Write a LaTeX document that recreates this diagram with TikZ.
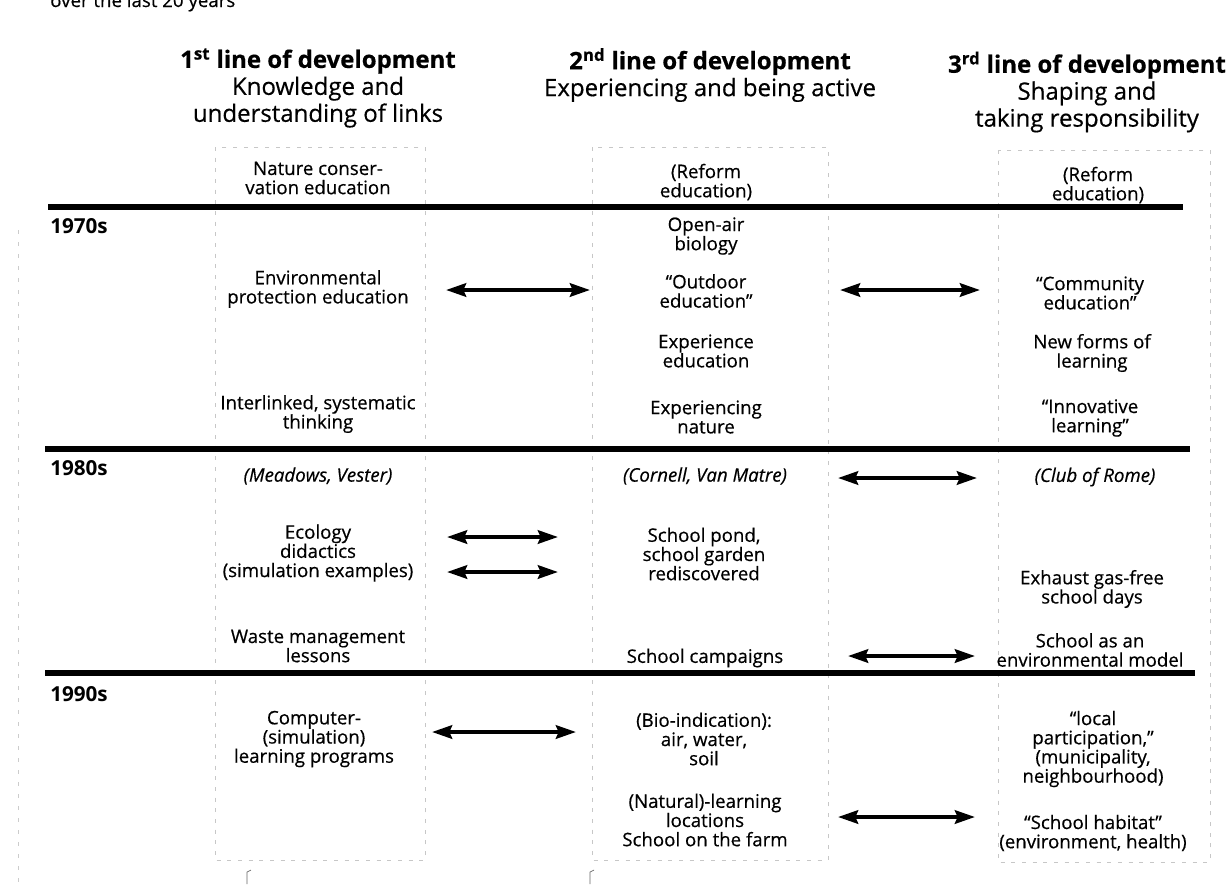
\documentclass[tikz,border=0pt]{standalone}
\usepackage{fontspec}
\setmainfont{Open Sans}
\newfontfamily\bodyf{Open Sans}[FakeBold=0.45, ItalicFeatures={FakeBold=0.45}]
\usetikzlibrary{arrows.meta}
\tikzset{
  txt/.style={font=\bodyf\fontsize{14}{14.4}\selectfont, align=center, inner sep=0pt},
  hd/.style={font=\bodyf\fontsize{18}{20.2}\selectfont, align=center, inner sep=0pt},
  yr/.style={font=\fontsize{15.5}{16}\selectfont\bfseries, anchor=west, inner sep=0pt},
  rulebar/.style={line width=3.8pt},
  colbox/.style={draw=black!22, dash pattern=on 3pt off 5pt, line width=0.6pt},
  faint/.style={draw=black!20, dash pattern=on 3pt off 6pt, line width=0.6pt},
  dbl/.style={line width=3pt, {Stealth[length=15pt,width=10pt,inset=2pt]}-{Stealth[length=15pt,width=10pt,inset=2pt]}}
}
\begin{document}
\begin{tikzpicture}[x=0.75pt,y=-0.75pt]
\useasboundingbox[fill=white] (0,0) rectangle (1227,886);
% cut-off caption at the top
\node[txt, anchor=base west] (cap) at (50,7) {over the last 20 years};
% faint column frames
\draw[colbox] (215,147) rectangle (425,860);
\draw[colbox] (592,147) rectangle (828,860);
\draw[colbox] (998,150) rectangle (1210,862);
\draw[faint] (18,230) -- (18,884);
\draw[black!60, line width=0.5pt] (247,884) -- (247,872) -- (251,870);
\draw[black!60, line width=0.5pt] (590,884) -- (590,872) -- (594,870);
% headings
\node[hd] (h1) at (318,88) {\textbf{1\textsuperscript{st} line of development}\\Knowledge and\\understanding of links};
\node[hd] (h2) at (710,75) {\textbf{2\textsuperscript{nd} line of development}\\Experiencing and being active};
\node[hd] (h3) at (1087,92) {\textbf{3\textsuperscript{rd} line of development}\\Shaping and\\taking responsibility};
% decade rules
\draw[rulebar] (48,207) -- (1183,207);
\draw[rulebar] (45,449) -- (1190,449);
\draw[rulebar] (45,673) -- (1195,673);
\node[yr] (y70) at (50,226) {1970s};
\node[yr] (y80) at (50,468) {1980s};
\node[yr] (y90) at (50,694) {1990s};
% column 1
\node[txt] (n1a) at (318,178) {Nature conser-\\vation education};
\node[txt] (n1b) at (318,289) {Environmental\\protection education};
\node[txt] (n1c) at (318,414) {Interlinked, systematic\\thinking};
\node[txt] (n1d) at (318,476) {\itshape (Meadows, Vester)};
\node[txt] (n1e) at (318,553) {Ecology\\didactics\\(simulation examples)};
\node[txt] (n1f) at (318,646) {Waste management\\lessons};
\node[txt] (n1g) at (314,739) {Computer-\\(simulation)\\learning programs};
% column 2
\node[txt] (n2a) at (706,182) {(Reform\\education)};
\node[txt] (n2b) at (706,236) {Open-air\\biology};
\node[txt] (n2c) at (706,291) {“Outdoor\\education”};
\node[txt] (n2d) at (706,351) {Experience\\education};
\node[txt] (n2e) at (706,417) {Experiencing\\nature};
\node[txt] (n2f) at (705,476) {\itshape (Cornell, Van Matre)};
\node[txt] (n2g) at (704,554) {School pond,\\school garden\\rediscovered};
\node[txt] (n2h) at (705,658) {School campaigns};
\node[txt] (n2i) at (704,739) {(Bio-indication):\\air, water,\\soil};
\node[txt] (n2j) at (705,820) {(Natural)-learning\\locations\\School on the farm};
% column 3
\node[txt] (n3a) at (1098,185) {(Reform\\education)};
\node[txt] (n3b) at (1090,293) {“Community\\education”};
\node[txt] (n3c) at (1092,353) {New forms of\\learning};
\node[txt] (n3d) at (1090,418) {“Innovative\\learning”};
\node[txt] (n3e) at (1095,477) {\itshape (Club of Rome)};
\node[txt] (n3f) at (1092,589) {Exhaust gas-free\\school days};
\node[txt] (n3g) at (1090,650) {School as an\\environmental model};
\node[txt] (n3h) at (1093,749) {“local\\participation,”\\(municipality,\\neighbourhood)};
\node[txt] (n3i) at (1093,833) {“School habitat”\\(environment, health)};
% arrow end points
\coordinate (a1l) at (446,290); \coordinate (a1r) at (590,290);
\coordinate (a2l) at (840,290); \coordinate (a2r) at (980,290);
\coordinate (a3l) at (838,478); \coordinate (a3r) at (977,478);
\coordinate (a4l) at (447,537); \coordinate (a4r) at (558,537);
\coordinate (a5l) at (447,572); \coordinate (a5r) at (558,572);
\coordinate (a6l) at (848,656); \coordinate (a6r) at (975,656);
\coordinate (a7l) at (432,732); \coordinate (a7r) at (576,732);
\coordinate (a8l) at (838,817); \coordinate (a8r) at (975,817);
\draw[dbl] (a1l) -- (a1r);
\draw[dbl] (a2l) -- (a2r);
\draw[dbl] (a3l) -- (a3r);
\draw[dbl] (a4l) -- (a4r);
\draw[dbl] (a5l) -- (a5r);
\draw[dbl] (a6l) -- (a6r);
\draw[dbl] (a7l) -- (a7r);
\draw[dbl] (a8l) -- (a8r);
\end{tikzpicture}
\end{document}
